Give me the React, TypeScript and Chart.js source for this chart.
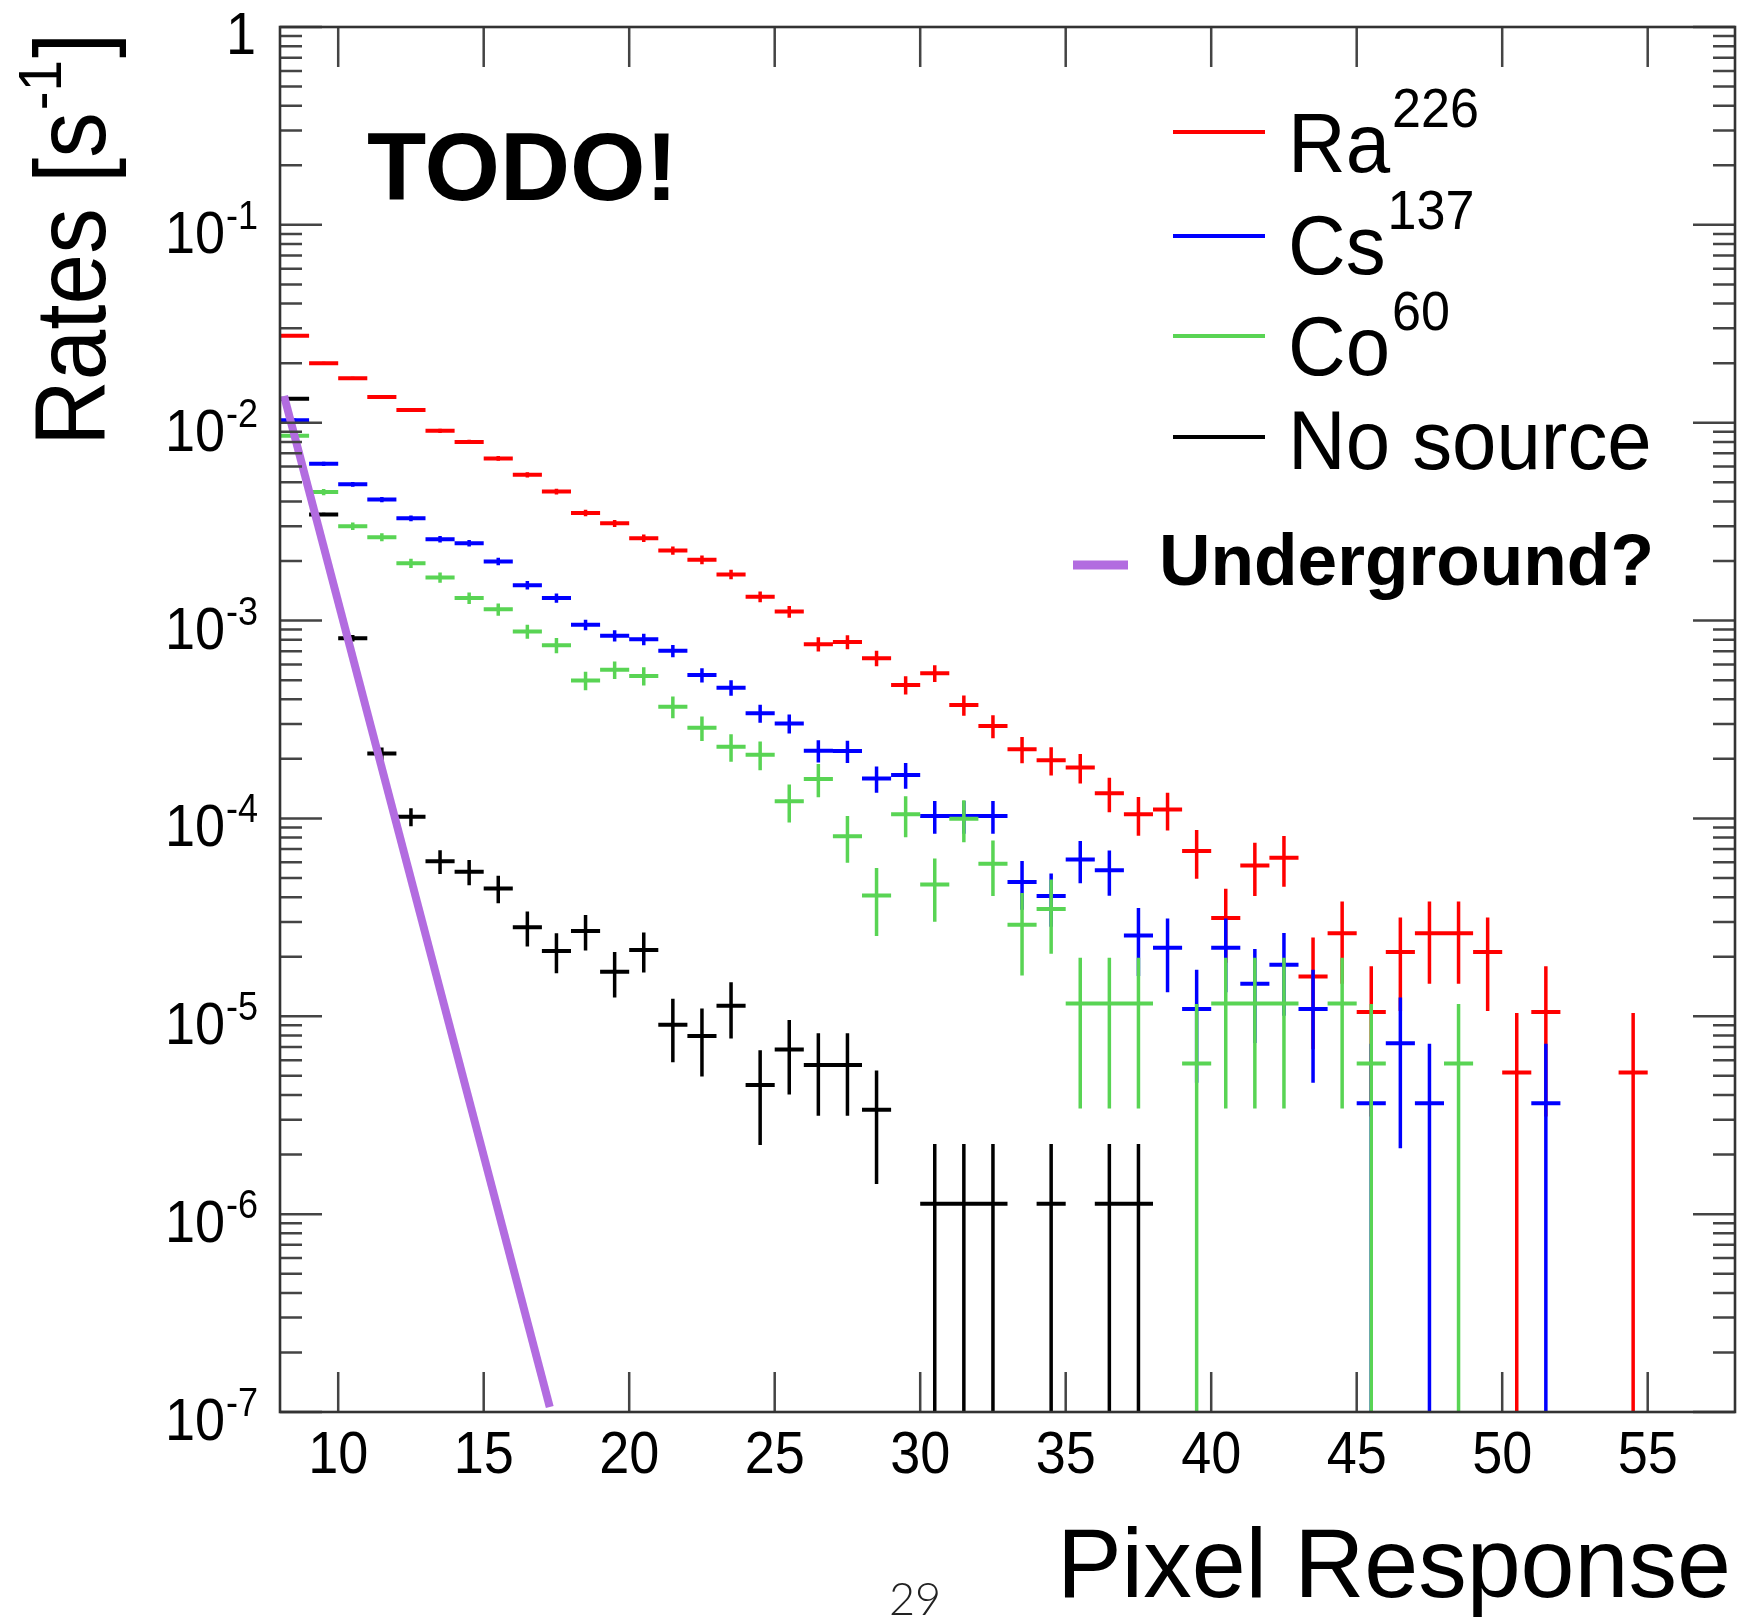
import React, { useEffect, useRef } from "react";
import { Chart, registerables } from "chart.js";

Chart.register(...registerables);

// ---------------- data ----------------
const binCenters = [
  8.5, 9.5, 10.5, 11.5, 12.5, 13.5, 14.5, 15.5, 16.5, 17.5, 18.5, 19.5, 20.5, 21.5, 22.5, 23.5,
  24.5, 25.5, 26.5, 27.5, 28.5, 29.5, 30.5, 31.5, 32.5, 33.5, 34.5, 35.5, 36.5, 37.5, 38.5, 39.5,
  40.5, 41.5, 42.5, 43.5, 44.5, 45.5, 46.5, 47.5, 48.5, 49.5, 50.5, 51.5, 52.5, 53.5, 54.5,
];
const binHalfWidth = 0.5;

const ra226 = [
  0.0275, 0.02, 0.0168, 0.0135, 0.0116, 0.0091, 0.008, 0.0066, 0.00545, 0.00449, 0.0035, 0.0031,
  0.00261, 0.00226, 0.00203, 0.00171, 0.00132, 0.00111, 0.00076, 0.00078, 0.000645, 0.000473,
  0.000542, 0.000374, 0.000293, 0.000224, 0.000197, 0.000181, 0.000134, 0.000105, 0.000111,
  6.85e-5, 3.14e-5, 5.79e-5, 6.33e-5, 1.59e-5, 2.63e-5, 1.05e-5, 2.11e-5, 2.63e-5, 2.63e-5,
  2.11e-5, 5.2e-6, 1.05e-5, null, null, 5.2e-6,
];
const cs137 = [
  0.0103, 0.0062, 0.00488, 0.00409, 0.00329, 0.00258, 0.00246, 0.00199, 0.00151, 0.0013,
  0.000952, 0.000838, 0.000805, 0.000703, 0.000531, 0.000458, 0.00034, 0.000302, 0.00022,
  0.000219, 0.000159, 0.000166, 0.000103, 0.000103, 0.000103, 4.77e-5, 4.05e-5, 6.2e-5, 5.47e-5,
  2.56e-5, 2.22e-5, 1.09e-5, 2.22e-5, 1.46e-5, 1.82e-5, 1.09e-5, null, 3.63e-6, 7.3e-6, 3.63e-6,
  null, null, null, 3.63e-6, null, null, null,
];
const co60 = [
  0.0086, 0.00446, 0.003, 0.00264, 0.00195, 0.00165, 0.0013, 0.00114, 0.00088, 0.00075,
  0.000498, 0.000564, 0.000525, 0.000367, 0.000287, 0.00023, 0.00021, 0.000122, 0.000158,
  8.13e-5, 4.08e-5, 0.000105, 4.64e-5, 9.97e-5, 5.9e-5, 2.9e-5, 3.49e-5, 1.16e-5, 1.16e-5,
  1.16e-5, null, 5.77e-6, 1.16e-5, 1.16e-5, 1.16e-5, null, 1.16e-5, 5.77e-6, null, null, 5.77e-6,
  null, null, null, null, null, null,
];
const noSource = [
  0.0132, 0.00344, 0.000814, 0.000213, 0.000102, 6.07e-5, 5.38e-5, 4.43e-5, 2.82e-5, 2.14e-5,
  2.7e-5, 1.68e-5, 2.16e-5, 9.06e-6, 7.96e-6, 1.13e-5, 4.49e-6, 6.8e-6, 5.68e-6, 5.68e-6, 3.37e-6,
  null, 1.13e-6, 1.13e-6, 1.13e-6, null, 1.13e-6, null, 1.13e-6, 1.13e-6, null, null, null, null,
  null, null, null, null, null, null, null, null, null, null, null, null, null,
];

// rate corresponding to a single count in each sample (level of the 1-count bins);
// the error bars are the Poisson sqrt(N) errors
const singleCountRate = [5.2e-6, 3.63e-6, 5.77e-6, 1.13e-6];

const seriesNames = ["Ra", "Cs", "Co", "No source"];
const seriesSup = ["226", "137", "60", ""];
const seriesColors = ["#ff0000", "#0000ff", "#59d454", "#000000"];
const seriesValues = [ra226, cs137, co60, noSource];

const undergroundLabel = "Underground?";
const undergroundColor = "#b26ce0";
const undergroundX = [8.14, 17.27];
const undergroundY = [0.01365, 1.06e-7];

const xTickValues = [10, 15, 20, 25, 30, 35, 40, 45, 50, 55];
const yDecadeExponents = [0, -1, -2, -3, -4, -5, -6, -7];

const X_MIN = 8;
const X_MAX = 58;
const Y_MIN = 1e-7;
const Y_MAX = 1;

const FONT = '"Liberation Sans", Arial, Helvetica, sans-serif';

// ---------------- helpers ----------------
function histSegments(values: (number | null)[], unit: number) {
  const h: any[] = [];
  const v: any[] = [];
  values.forEach((val, i) => {
    if (val == null) return;
    const c = binCenters[i];
    h.push({ x: c - binHalfWidth, y: val }, { x: c + binHalfWidth, y: val }, { x: c, y: null });
    const err = Math.sqrt(val * unit);
    const lo = Math.max(val - err, Y_MIN);
    v.push({ x: c, y: lo }, { x: c, y: val + err }, { x: c, y: null });
  });
  return { h, v };
}

function drawText(
  ctx: CanvasRenderingContext2D,
  s: string,
  x: number,
  y: number,
  font: string,
  align: CanvasTextAlign,
  sx: number,
  color = "#000"
) {
  ctx.save();
  ctx.font = font;
  ctx.fillStyle = color;
  ctx.textAlign = align;
  ctx.textBaseline = "alphabetic";
  ctx.translate(x, y);
  ctx.scale(sx, 1);
  ctx.fillText(s, 0, 0);
  ctx.restore();
}

function textWidth(ctx: CanvasRenderingContext2D, s: string, font: string, sx: number) {
  ctx.save();
  ctx.font = font;
  const w = ctx.measureText(s).width * sx;
  ctx.restore();
  return w;
}

const rootPlugin = {
  id: "rootStyle",
  afterDatasetsDraw(chart: any) {
    const ctx: CanvasRenderingContext2D = chart.ctx;
    const { left, right, top, bottom } = chart.chartArea;
    const xs = chart.scales.x;
    const ys = chart.scales.y;
    ctx.save();
    // ticks
    ctx.strokeStyle = "#444";
    ctx.lineWidth = 2.5;
    ctx.beginPath();
    xTickValues.forEach((v) => {
      const px = xs.getPixelForValue(v);
      ctx.moveTo(px, bottom);
      ctx.lineTo(px, bottom - 40);
      ctx.moveTo(px, top);
      ctx.lineTo(px, top + 40);
    });
    yDecadeExponents.forEach((d) => {
      const base = Math.pow(10, d);
      const py = ys.getPixelForValue(base);
      ctx.moveTo(left, py);
      ctx.lineTo(left + 42, py);
      ctx.moveTo(right, py);
      ctx.lineTo(right - 42, py);
      if (d < 0) {
        for (let m = 2; m <= 9; m++) {
          const pm = ys.getPixelForValue(m * base);
          ctx.moveTo(left, pm);
          ctx.lineTo(left + 22, pm);
          ctx.moveTo(right, pm);
          ctx.lineTo(right - 22, pm);
        }
      }
    });
    ctx.stroke();
    // frame
    ctx.strokeStyle = "#333";
    ctx.lineWidth = 2.6;
    ctx.strokeRect(left, top, right - left, bottom - top);
    ctx.restore();
  },
  afterDraw(chart: any) {
    const ctx: CanvasRenderingContext2D = chart.ctx;
    const xs = chart.scales.x;
    const ys = chart.scales.y;
    const { bottom } = chart.chartArea;

    // x tick labels
    xTickValues.forEach((v) => {
      drawText(ctx, String(v), xs.getPixelForValue(v), bottom + 61, `60px ${FONT}`, "center", 0.9);
    });

    // y tick labels (10^n)
    const labelRight = 258;
    yDecadeExponents.forEach((d) => {
      const py = ys.getPixelForValue(Math.pow(10, d));
      if (d === 0) {
        drawText(ctx, "1", labelRight - 2, py + 27, `60px ${FONT}`, "right", 0.9);
      } else {
        const sup = String(d);
        const supFont = `40px ${FONT}`;
        const sw = textWidth(ctx, sup, supFont, 0.9);
        drawText(ctx, sup, labelRight - sw, py + 4, supFont, "left", 0.9);
        drawText(ctx, "10", labelRight - sw - 1, py + 28, `60px ${FONT}`, "right", 0.9);
      }
    });

    // y axis title (rotated)
    ctx.save();
    ctx.translate(105, 446);
    ctx.rotate(-Math.PI / 2);
    const tFont = `100px ${FONT}`;
    const part1 = "Rates [s";
    const w1 = textWidth(ctx, part1, tFont, 0.91);
    drawText(ctx, part1, 0, 0, tFont, "left", 0.91);
    const supFontT = `62px ${FONT}`;
    const w2 = textWidth(ctx, "-1", supFontT, 0.91);
    drawText(ctx, "-1", w1 + 2, -44, supFontT, "left", 0.91);
    drawText(ctx, "]", w1 + w2 + 4, 0, tFont, "left", 0.91);
    ctx.restore();

    // x axis title
    drawText(ctx, "Pixel Response", 1731, 1597, `98px ${FONT}`, "right", 0.99);

    // TODO!
    drawText(ctx, "TODO!", 367, 200, `bold 97px ${FONT}`, "left", 1.0);

    // legend
    const lineY = [132, 236, 336, 437];
    const baseY = [172, 274, 375, 469];
    seriesNames.forEach((name, i) => {
      ctx.save();
      ctx.strokeStyle = seriesColors[i];
      ctx.lineWidth = 4;
      ctx.beginPath();
      ctx.moveTo(1173, lineY[i]);
      ctx.lineTo(1265, lineY[i]);
      ctx.stroke();
      ctx.restore();
      const f = `84px ${FONT}`;
      const sx = 0.95;
      drawText(ctx, name, 1288, baseY[i], f, "left", sx);
      if (seriesSup[i]) {
        const w = textWidth(ctx, name, f, sx);
        drawText(ctx, seriesSup[i], 1288 + w + 2, baseY[i] - 45, `56px ${FONT}`, "left", 0.93);
      }
    });
    ctx.save();
    ctx.strokeStyle = undergroundColor;
    ctx.lineWidth = 9;
    ctx.beginPath();
    ctx.moveTo(1073, 565);
    ctx.lineTo(1128, 565);
    ctx.stroke();
    ctx.restore();
    drawText(ctx, undergroundLabel, 1159, 585, `bold 72px ${FONT}`, "left", 0.99);

    // page number
    drawText(ctx, "29", 889, 1615, `300 45px Lato, ${FONT}`, "left", 1, "#222");
  },
};

export default function App() {
  const canvasRef = useRef<HTMLCanvasElement | null>(null);

  useEffect(() => {
    if (!canvasRef.current) return;
    const datasets: any[] = [];
    const orders = [4, 3, 2, 1];
    seriesValues.forEach((vals, i) => {
      const { h, v } = histSegments(vals, singleCountRate[i]);
      const common = {
        type: "line",
        borderColor: seriesColors[i],
        backgroundColor: seriesColors[i],
        pointRadius: 0,
        pointHoverRadius: 0,
        fill: false,
        tension: 0,
        spanGaps: false,
        order: orders[i],
        borderCapStyle: "butt",
      };
      datasets.push({ ...common, label: seriesNames[i] + " bins", data: h, borderWidth: 4 });
      datasets.push({ ...common, label: seriesNames[i] + " errors", data: v, borderWidth: 3.5 });
    });
    datasets.push({
      type: "line",
      label: undergroundLabel,
      data: undergroundX.map((x, i) => ({ x, y: undergroundY[i] })),
      borderColor: undergroundColor,
      backgroundColor: undergroundColor,
      borderWidth: 8,
      pointRadius: 0,
      fill: false,
      tension: 0,
      order: 0,
      borderCapStyle: "butt",
    });

    const chart = new Chart(canvasRef.current, {
      type: "line",
      data: { datasets },
      options: {
        animation: false,
        responsive: false,
        events: [],
        layout: { padding: { left: 280, top: 27, right: 9, bottom: 207 } },
        scales: {
          x: { type: "linear", min: X_MIN, max: X_MAX, display: false },
          y: { type: "logarithmic", min: Y_MIN, max: Y_MAX, display: false },
        },
        plugins: { legend: { display: false }, tooltip: { enabled: false } },
      },
      plugins: [rootPlugin],
    } as any);
    return () => chart.destroy();
  }, []);

  return (
    <div style={{ position: "absolute", left: 0, top: 0, width: 1744, height: 1619, background: "#fff" }}>
      <canvas ref={canvasRef} width={1744} height={1619} style={{ display: "block" }} />
    </div>
  );
}
